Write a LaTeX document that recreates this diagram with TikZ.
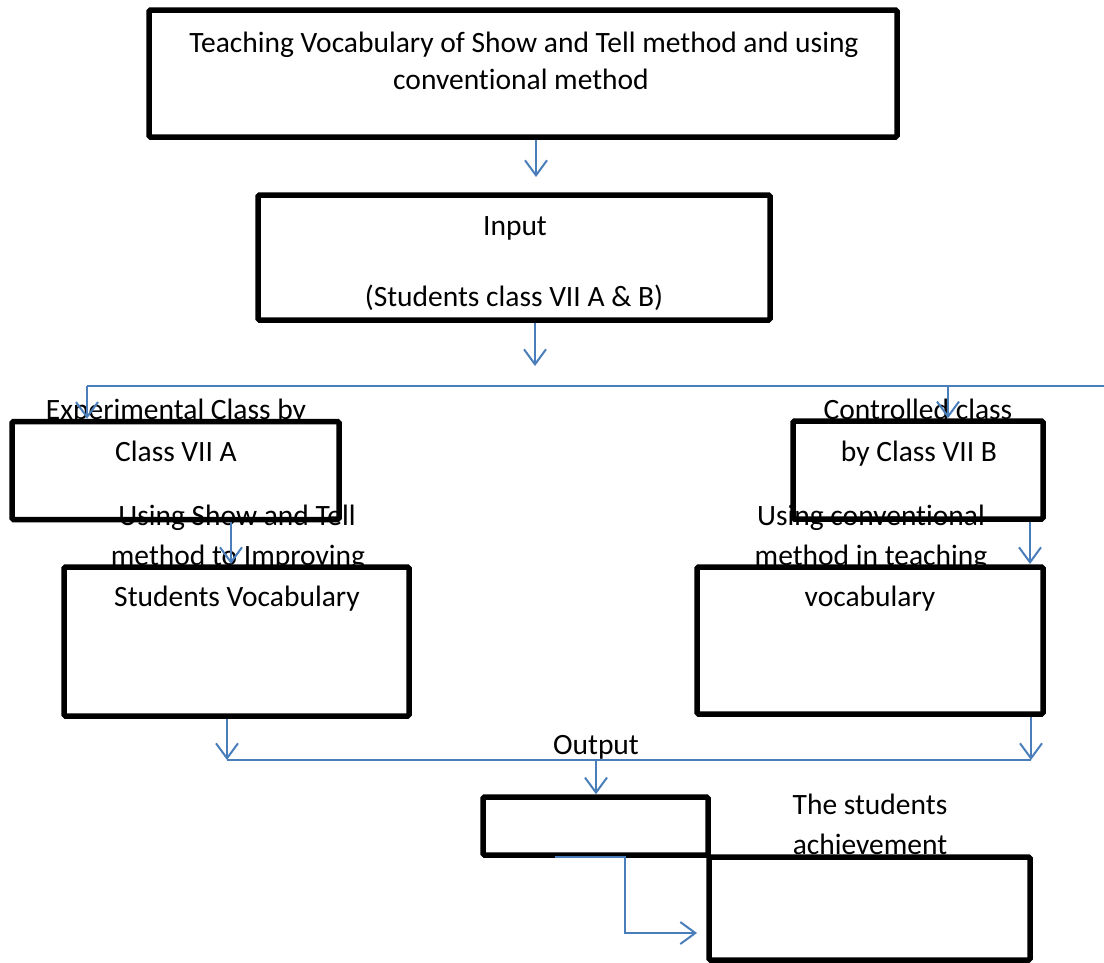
\documentclass[tikz,border=0pt]{standalone}
\usepackage{fontspec}
\setmainfont[Ligatures=NoCommon]{Carlito}
\usetikzlibrary{arrows.meta}
\definecolor{wordblue}{HTML}{4A7EBB}
\tikzset{
  box/.style={draw=black, line width=5.5pt, rounded corners=1.5pt, inner sep=0pt, fill=none},
  conn/.style={draw=wordblue, line width=2pt},
  arr/.style={conn, -{Straight Barb[length=15pt,width=22pt]}},
  txt/.style={anchor=base, inner sep=0pt, font=\fontsize{29.5}{34}\selectfont}
}
\begin{document}
\begin{tikzpicture}[x=1pt,y=-1pt]
\useasboundingbox (0,0) rectangle (1104,962);
% boxes
\node[box, minimum width=748pt, minimum height=127pt] (b1) at (523,73.5) {};
\node[box, minimum width=512pt, minimum height=125pt] (b2) at (514,257.5) {};
\node[box, minimum width=327pt, minimum height=98pt] (b3) at (175.5,470.5) {};
\node[box, minimum width=250pt, minimum height=98pt] (b4) at (918,470) {};
\node[box, minimum width=345pt, minimum height=149pt] (b5) at (236.5,641.5) {};
\node[box, minimum width=346pt, minimum height=147pt] (b6) at (870,640.5) {};
\node[box, minimum width=225pt, minimum height=58pt] (b7) at (595.5,826) {};
\node[box, minimum width=321pt, minimum height=103pt] (b8) at (869.5,908.5) {};
% texts
\node[txt] (t1a) at (524,52) {Teaching Vocabulary of Show and Tell method and using};
\node[txt] (t1b) at (521,89) {conventional method};
\node[txt] (t2a) at (515,235) {Input};
\node[txt] (t2b) at (514,306) {(Students class VII A \& B)};
\node[txt] (t3a) at (176,419) {Experimental Class by};
\node[txt] (t3b) at (176,461) {Class VII A};
\node[txt] (t4a) at (918,419) {Controlled class};
\node[txt] (t4b) at (919,461) {by Class VII B};
\node[txt] (t5a) at (237,525) {Using Show and Tell};
\node[txt] (t5b) at (238,565) {method to Improving};
\node[txt] (t5c) at (237,606) {Students Vocabulary};
\node[txt] (t6a) at (871,525) {Using conventional};
\node[txt] (t6b) at (871,565) {method in teaching};
\node[txt] (t6c) at (870,606) {vocabulary};
\node[txt] (t7) at (596,754) {Output};
\node[txt] (t8a) at (870,814) {The students};
\node[txt] (t8b) at (870,854) {achievement};
% coordinates
\coordinate (a1) at (536,177);
\coordinate (a2) at (535,366);
\coordinate (hl) at (87,386);
\coordinate (hr) at (1104,386);
\coordinate (sl) at (87,386);
\coordinate (sr) at (948,386);
\coordinate (a5) at (231,564);
\coordinate (a6) at (1030,564);
\coordinate (ml) at (227,760);
\coordinate (mr) at (1031,760);
\coordinate (mm) at (596,760);
\coordinate (o1) at (555,857);
\coordinate (o2) at (625,857);
\coordinate (o3) at (625,933);
\coordinate (o4) at (697,933);
% connectors
\draw[arr] (a1 |- b1.south) -- (a1);
\draw[arr] (a2 |- b2.south) -- (a2);
\draw[conn] (hl) -- (hr);
\draw[arr] (sl) -- (sl |- b3.north);
\draw[arr] (sr) -- (sr |- b4.north);
\draw[arr] (a5 |- b3.south) -- (a5);
\draw[arr] (a6 |- b4.south) -- (a6);
\draw[arr] (ml |- b5.south) -- (ml);
\draw[arr] (mr |- b6.south) -- (mr);
\draw[conn] (ml) -- (mr);
\draw[arr] (mm) -- (mm |- b7.north);
\draw[arr] (o1) -- (o2) -- (o3) -- (o4);
\end{tikzpicture}
\end{document}
